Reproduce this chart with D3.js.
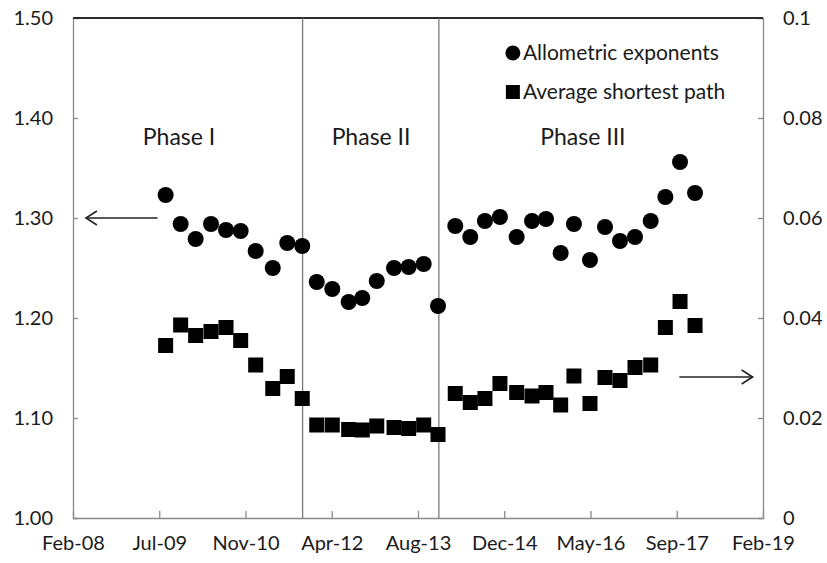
<!DOCTYPE html>
<html>
<head>
<meta charset="utf-8">
<script src="https://cdn.jsdelivr.net/npm/d3@7"></script>
<style>
  body { margin: 0; background: #fff; }
  text { font-family: Lato, "Open Sans", sans-serif; fill: #1a1a1a; }
</style>
</head>
<body>
<svg id="chart" width="827" height="563"></svg>
<script>
/// data, dates kept as Excel serial days like the source sheet
var dates = [40037, 40124, 40211, 40300, 40387, 40472, 40559, 40658, 40742, 40829,
             40913, 41003, 41098, 41177, 41261, 41361, 41446, 41533, 41616,
             41716, 41803, 41888, 41975, 42072, 42161, 42242, 42327, 42404, 42497,
             42584, 42671, 42758, 42849, 42934, 43019, 43106];

var allometric = [1.323, 1.294, 1.279, 1.294, 1.288, 1.287, 1.267, 1.250, 1.275, 1.272,
                  1.236, 1.229, 1.216, 1.220, 1.237, 1.250, 1.251, 1.254, 1.212,
                  1.292, 1.281, 1.297, 1.301, 1.281, 1.297, 1.299, 1.265, 1.294, 1.258,
                  1.291, 1.277, 1.281, 1.297, 1.321, 1.356, 1.325];

var shortestPath = [0.0345, 0.0386, 0.0365, 0.0373, 0.0381, 0.0355, 0.0306, 0.0259, 0.0283, 0.0239,
                    0.0186, 0.0186, 0.0177, 0.0176, 0.0184, 0.0181, 0.0179, 0.0186, 0.0167,
                    0.0249, 0.0231, 0.0239, 0.0269, 0.0251, 0.0244, 0.0251, 0.0226, 0.0284, 0.0229,
                    0.0281, 0.0275, 0.0301, 0.0306, 0.0381, 0.0433, 0.0385];

var xTicks = [39500, 40000, 40500, 41000, 41500, 42000, 42500, 43000, 43500];
var leftTicks = [1.00, 1.10, 1.20, 1.30, 1.40, 1.50];
var rightTicks = [0, 0.02, 0.04, 0.06, 0.08, 0.1];
var rightTickLabels = ["0", "0.02", "0.04", "0.06", "0.08", "0.1"];

var phaseBounds = [40831, 41621];
var phaseNames = ["Phase I", "Phase II", "Phase III"];
var phaseLabelDates = [40115, 41228, 42456];

var seriesNames = ["Allometric exponents", "Average shortest path"];

// excel serial -> js date
function toDate(s) { return new Date(Date.UTC(1899, 11, 30) + s * 864e5); }

var margin = {top: 18, right: 64, bottom: 45, left: 73},
    width = 827 - margin.left - margin.right,
    height = 563 - margin.top - margin.bottom;

var svg = d3.select("#chart");
var g = svg.append("g").attr("transform", "translate(" + margin.left + "," + margin.top + ")");

var x = d3.scaleUtc().domain([toDate(39500), toDate(43500)]).range([0, width]);
var yL = d3.scaleLinear().domain([1.0, 1.5]).range([height, 0]);
var yR = d3.scaleLinear().domain([0, 0.1]).range([height, 0]);

var axisColor = "#8a8a8a";
var fmtMonth = d3.utcFormat("%b-%y");

/// axes
var xAxis = g.append("g").attr("transform", "translate(0," + height + ")")
    .call(d3.axisBottom(x).tickValues(xTicks.map(toDate)).tickSize(-7).tickPadding(22).tickFormat(fmtMonth));
var lAxis = g.append("g")
    .call(d3.axisLeft(yL).tickValues(leftTicks).tickSize(-5).tickPadding(20).tickFormat(d3.format(".2f")));
var rAxis = g.append("g").attr("transform", "translate(" + width + ",0)")
    .call(d3.axisRight(yR).tickValues(rightTicks).tickSize(-5).tickPadding(20)
      .tickFormat(function(d, i) { return rightTickLabels[i]; }));

[xAxis, lAxis, rAxis].forEach(function(a) {
  a.select(".domain").attr("stroke", axisColor).attr("stroke-width", 1.3);
  a.selectAll(".tick line").attr("stroke", axisColor).attr("stroke-width", 1.3);
  a.selectAll(".tick text").style("font-size", "20px").attr("fill", "#1a1a1a");
});
// drop the first/last tick mark on the corners (excel hides them)
xAxis.selectAll(".tick line").filter(function(d, i) { return i === 0 || i === xTicks.length - 1; }).remove();
lAxis.selectAll(".tick").filter(function(d, i) { return i === leftTicks.length - 1 || i === 0; }).select("line").remove();
rAxis.selectAll(".tick").filter(function(d, i) { return i === rightTicks.length - 1 || i === 0; }).select("line").remove();
xAxis.selectAll(".tick text").attr("dy", "0.5em");

// thick border along the top
g.append("line")
    .attr("x1", 0).attr("x2", width).attr("y1", 0).attr("y2", 0)
    .attr("stroke", "#2b2b2b").attr("stroke-width", 2.2);

/// phase separators + labels
g.selectAll(".phase-line")
    .data(phaseBounds)
  .enter().append("line")
    .attr("class", "phase-line")
    .attr("x1", function(d) { return x(toDate(d)); })
    .attr("x2", function(d) { return x(toDate(d)); })
    .attr("y1", 0).attr("y2", height)
    .attr("stroke", "#7a7a7a").attr("stroke-width", 1.3);

g.selectAll(".phase-label")
    .data(phaseNames)
  .enter().append("text")
    .attr("class", "phase-label")
    .attr("x", function(d, i) { return x(toDate(phaseLabelDates[i])); })
    .attr("y", yL(1.381))
    .attr("text-anchor", "middle")
    .attr("dy", "0.35em")
    .style("font-size", "23px")
    .attr("fill", "#3a3a3a")
    .text(function(d) { return d; });

/// points
var pts = dates.map(function(d, i) {
  return {date: toDate(d), a: allometric[i], s: shortestPath[i]};
});

g.selectAll(".sq")
    .data(pts)
  .enter().append("rect")
    .attr("class", "sq")
    .attr("x", function(d) { return x(d.date) - 7.5; })
    .attr("y", function(d) { return yR(d.s) - 7.5; })
    .attr("width", 15).attr("height", 15)
    .attr("fill", "#000");

g.selectAll(".dot")
    .data(pts)
  .enter().append("circle")
    .attr("class", "dot")
    .attr("cx", function(d) { return x(d.date); })
    .attr("cy", function(d) { return yL(d.a); })
    .attr("r", 8)
    .attr("fill", "#000");

/// arrows pointing to each axis
function arrow(x1, x2, yy) {
  var dir = x2 > x1 ? 1 : -1;
  g.append("line").attr("x1", x1).attr("x2", x2).attr("y1", yy).attr("y2", yy)
      .attr("stroke", "#222").attr("stroke-width", 1.6);
  g.append("path")
      .attr("d", "M" + (x2 - dir * 11) + "," + (yy - 7) + "L" + x2 + "," + yy + "L" + (x2 - dir * 11) + "," + (yy + 7))
      .attr("fill", "none").attr("stroke", "#222").attr("stroke-width", 1.6);
}
arrow(x(toDate(39990)), x(toDate(39575)), yL(1.30));
arrow(x(toDate(43015)), x(toDate(43440)), yR(0.0282));

/// legend
var legend = g.append("g").attr("transform", "translate(" + (x(toDate(42050)) ) + "," + yR(0.093) + ")");
legend.append("circle").attr("cx", 0).attr("cy", 0).attr("r", 7.5).attr("fill", "#000");
legend.append("rect").attr("x", -7).attr("y", 39 - 7).attr("width", 14).attr("height", 14).attr("fill", "#000");
legend.selectAll("text")
    .data(seriesNames)
  .enter().append("text")
    .attr("x", 10)
    .attr("y", function(d, i) { return i * 39; })
    .attr("dy", "0.35em")
    .style("font-size", "21px")
    .text(function(d) { return d; });
</script>
</body>
</html>
